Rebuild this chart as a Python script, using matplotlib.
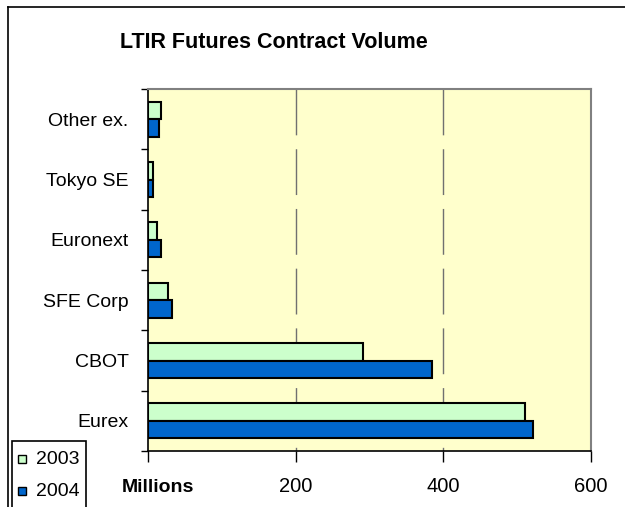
import matplotlib.pyplot as plt
import numpy as np
from matplotlib.lines import Line2D
from matplotlib.patches import Rectangle

plt.rcParams['font.family'] = ['Liberation Sans', 'DejaVu Sans']

exchanges = ["Eurex", "CBOT", "SFE Corp", "Euronext", "Tokyo SE", "Other ex."]
vol_2003 = [511, 291, 27, 12, 7, 17]
vol_2004 = [522, 385, 32, 17, 7, 15]
years = ["2003", "2004"]
x_ticks = [0, 200, 400, 600]
x_labels = ["", "200", "400", "600"]

color_2003 = "#CCFFCC"
color_2004 = "#0066CC"

fig = plt.figure(figsize=(6.25, 5.07), dpi=100)
fig.patch.set_facecolor("white")

ax = fig.add_axes([148 / 625, 1 - 451 / 507, 443 / 625, 362 / 507])
ax.set_facecolor("#FFFFCC")

y = np.arange(len(exchanges))
h = 0.29
ax.barh(y + h / 2, vol_2003, height=h, color=color_2003, edgecolor="black", linewidth=1.5, zorder=3)
ax.barh(y - h / 2, vol_2004, height=h, color=color_2004, edgecolor="black", linewidth=1.5, zorder=3)

ax.set_xlim(0, 600)
ax.set_ylim(-0.5, len(exchanges) - 0.5)

# dashed vertical gridlines, drawn from the top down
for xv in x_ticks[1:-1]:
    ax.plot([xv, xv], [1, 0], transform=ax.get_xaxis_transform(), color="#707070",
            linewidth=1, dashes=(33, 10), zorder=1)

ax.set_xticks(x_ticks)
ax.set_xticklabels(x_labels, fontsize=14.5)
ax.set_yticks(y)
ax.set_yticklabels(exchanges, fontsize=14)
ax.set_yticks(np.arange(len(exchanges) + 1) - 0.5, minor=True)
ax.tick_params(axis="y", which="major", length=0, pad=14)
ax.tick_params(axis="y", which="minor", length=5, width=1, direction="out")
ax.tick_params(axis="x", length=8, width=1, direction="out", pad=11)

for side in ["top", "right"]:
    ax.spines[side].set_color("#808080")
    ax.spines[side].set_linewidth(1.5)
for side in ["left", "bottom"]:
    ax.spines[side].set_color("black")
    ax.spines[side].set_linewidth(1.2)

fig.text(274 / 625, 1 - 42 / 507, "LTIR Futures Contract Volume", fontsize=15.5,
         fontweight="bold", ha="center", va="center")
fig.text(158 / 625, 1 - 488 / 507, "Millions", fontsize=14, fontweight="bold",
         ha="center", va="center")

# figure frame (left and top edges)
fig.add_artist(Line2D([8 / 625, 8 / 625], [0, 1 - 7 / 507], color="black", linewidth=1.2))
fig.add_artist(Line2D([8 / 625, 1], [1 - 7 / 507, 1 - 7 / 507], color="black", linewidth=1.2))

# legend box
fig.add_artist(Rectangle((12 / 625, -0.01), 74 / 625, 1 - 441 / 507 + 0.01,
                         transform=fig.transFigure, facecolor="white", edgecolor="black",
                         linewidth=1.2))
for i, (lab, col) in enumerate(zip(years, [color_2003, color_2004])):
    yy = 459 + i * 32
    fig.add_artist(Rectangle((18 / 625, 1 - (yy + 4) / 507), 8 / 625, 8 / 507,
                             transform=fig.transFigure, facecolor=col, edgecolor="black",
                             linewidth=1))
    fig.text(36 / 625, 1 - yy / 507, lab, fontsize=14, ha="left", va="center")

fig.savefig("out.png", dpi=100)
